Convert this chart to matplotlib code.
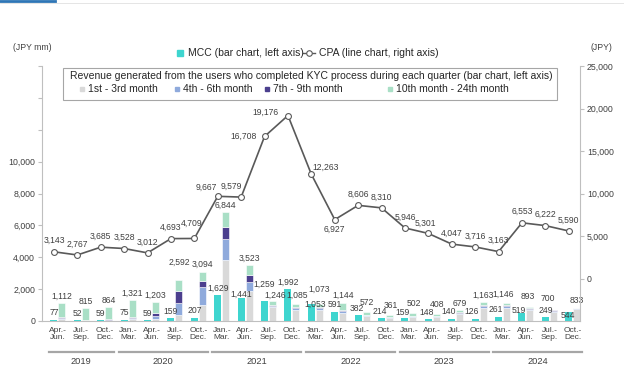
import matplotlib
matplotlib.use('Agg')
import matplotlib.pyplot as plt
from matplotlib.lines import Line2D
from matplotlib.patches import Rectangle
from matplotlib.ticker import FuncFormatter
import matplotlib.transforms as mtransforms

plt.rcParams['font.family'] = ['Liberation Sans', 'DejaVu Sans']

# quarter labels and year groups
quarters = ['Apr.-\nJun.', 'Jul.-\nSep.', 'Oct.-\nDec.',
            'Jan.-\nMar.', 'Apr.-\nJun.', 'Jul.-\nSep.', 'Oct.-\nDec.',
            'Jan.-\nMar.', 'Apr.-\nJun.', 'Jul.-\nSep.', 'Oct.-\nDec.',
            'Jan.-\nMar.', 'Apr.-\nJun.', 'Jul.-\nSep.', 'Oct.-\nDec.',
            'Jan.-\nMar.', 'Apr.-\nJun.', 'Jul.-\nSep.', 'Oct.-\nDec.',
            'Jan.-\nMar.', 'Apr.-\nJun.', 'Jul.-\nSep.', 'Oct.-\nDec.']
years = ['2019', '2020', '2021', '2022', '2023', '2024']
year_counts = [3, 4, 4, 4, 4, 4]

# MCC (JPY mm)
mcc = [77, 52, 59, 75, 59, 159, 207, 1629, 1441, 1259, 1992, 1053, 591,
       382, 214, 159, 148, 140, 126, 261, 519, 249, 544]

# revenue from KYC users, by months since KYC (JPY mm)
m1_3 = [150, 50, 30, 120, 150, 400, 1030, 3844, 1908, 860, 700, 700, 500,
        300, 180, 250, 250, 450, 800, 800, 700, 580, 780]
m4_6 = [60, 20, 60, 60, 150, 750, 1130, 1280, 525, 100, 130, 120, 150,
        80, 50, 60, 50, 80, 150, 150, 80, 60, 40]
m7_9 = [20, 10, 20, 60, 200, 750, 360, 775, 460, 60, 60, 50, 50,
        20, 20, 20, 20, 40, 80, 60, 60, 30, 10]
m10_24 = [882, 735, 754, 1081, 703, 692, 574, 945, 630, 226, 195, 203, 444,
          172, 111, 172, 88, 109, 133, 136, 53, 30, 3]
rev_total = [1112, 815, 864, 1321, 1203, 2592, 3094, 6844, 3523, 1246, 1085,
             1073, 1144, 572, 361, 502, 408, 679, 1163, 1146, 893, 700, 833]

# CPA (JPY)
cpa = [3143, 2767, 3685, 3528, 3012, 4693, 4709, 9667, 9579, 16708, 19176,
       12263, 6927, 8606, 8310, 5946, 5301, 4047, 3716, 3163, 6553, 6222, 5590]

teal = '#3ED5CF'
c_grey = '#D9D9D9'
c_blue = '#8FAADC'
c_purple = '#4B3F8E'
c_green = '#A9DFC6'
txt = '#404040'
axc = '#BFBFBF'

W, H = 624, 373
fig = plt.figure(figsize=(W / 100, H / 100), dpi=100)
ax = fig.add_axes([42 / W, 1 - 321 / H, 538 / W, 255 / H])


def px(x, y):
    return x / W, 1 - y / H


x = list(range(len(quarters)))
xt = [i - 0.17 for i in x]
xs = [i + 0.17 for i in x]
bw = 0.3

ax.bar(xt, mcc, bw, color=teal, zorder=2)
bottom = [0] * len(x)
for vals, col in [(m1_3, c_grey), (m4_6, c_blue), (m7_9, c_purple), (m10_24, c_green)]:
    ax.bar(xs, vals, bw, bottom=bottom, color=col, edgecolor='white',
           linewidth=0.4, zorder=2)
    bottom = [b + v for b, v in zip(bottom, vals)]

ax.set_xlim(-0.68, 22.31)
ax.set_ylim(0, 16000)
ax.set_yticks(range(0, 16001, 2000))
ax.yaxis.set_major_formatter(FuncFormatter(lambda v, p: f'{int(v):,}' if v <= 10000 else ''))
ax.set_xticks(x)
ax.set_xticklabels(quarters, fontsize=6, color=txt, linespacing=1.1)
ax.tick_params(axis='x', length=0, pad=4)
ax.tick_params(axis='y', length=3, color=axc, labelsize=6.3, labelcolor=txt, pad=2)
for s in ['top', 'right']:
    ax.spines[s].set_visible(False)
ax.spines['left'].set_color(axc)
ax.spines['bottom'].set_color(axc)

# bar labels (offsets in pixels for labels that were moved by hand)
teal_off = {8: (0, 4), 9: (0, 17), 11: (4, 0), 20: (-3, 2), 22: (-1, -3),
            13: (-1, 6), 14: (-2, 6), 15: (-2, 6), 16: (-2, 6),
            17: (-3, 7), 18: (-4, 7), 19: (-3, 7)}
stack_off = {9: (3, 6), 11: (0, 15), 5: (0, 17), 21: (-5, 11), 19: (-3, 8), 20: (-2, 10),
             13: (1, 9.5), 14: (1, 9.5), 15: (1, 9.5), 16: (1, 10), 10: (1, 8)}
for i in x:
    dx, dy = teal_off.get(i, (0, 7))
    ax.annotate(f'{mcc[i]:,}', (xt[i], mcc[i]), xytext=(dx, dy),
                textcoords='offset pixels', ha='center', va='center',
                fontsize=6.2, color=txt, zorder=5)
    dx, dy = stack_off.get(i, (0, 7))
    ax.annotate(f'{rev_total[i]:,}', (xs[i], rev_total[i]), xytext=(dx, dy),
                textcoords='offset pixels', ha='center', va='center',
                fontsize=6.2, color=txt, zorder=5)

# CPA line on right axis
ax2 = ax.twinx()
ax2.plot(xt, cpa, color='#595959', lw=1.2, marker='o', ms=4.2,
         mfc='white', mec='#595959', mew=0.8, zorder=3)
ax2.set_ylim(-5000, 25000)
ax2.set_yticks(range(0, 25001, 5000))
ax2.yaxis.set_major_formatter(FuncFormatter(lambda v, p: f'{int(v):,}'))
ax2.tick_params(axis='y', length=3, color=axc, labelsize=6.3, labelcolor=txt, pad=2)
for s in ['top', 'left', 'bottom']:
    ax2.spines[s].set_visible(False)
ax2.spines['right'].set_color(axc)

cpa_off = {6: (-3, 15), 7: (-11, 9), 8: (-10, 11), 9: (-21, 0), 10: (-22, 3),
           11: (14, 7), 12: (0, -10), 16: (-3, 10)}
for i in x:
    dx, dy = cpa_off.get(i, (0, 11))
    ax2.annotate(f'{cpa[i]:,}', (xt[i], cpa[i]), xytext=(dx, dy),
                 textcoords='offset pixels', ha='center', va='center',
                 fontsize=6.2, color=txt)

# year group lines and labels
trans = mtransforms.blended_transform_factory(ax.transData, ax.transAxes)
start = 0
for yr, n in zip(years, year_counts):
    a, b = start - 0.4, start + n - 0.6
    ax.plot([a, b], [-0.122, -0.122], color='#A6A6A6', lw=1.6,
            transform=trans, clip_on=False)
    ax.text((a + b) / 2, -0.16, yr, transform=trans, ha='center', va='center',
            fontsize=6.7, color=txt)
    start += n

# axis unit labels
fig.text(*px(32, 47), '(JPY mm)', ha='center', va='center', fontsize=6.2, color=txt)
fig.text(*px(601, 47), '(JPY)', ha='center', va='center', fontsize=6.2, color=txt)

# top legend
fig.add_artist(Line2D(*zip(px(180, 53)), marker='s', ms=3.8, color=teal, ls=''))
fig.text(*px(188, 53), 'MCC (bar chart, left axis)', ha='left', va='center',
         fontsize=7.5, color='#262626')
fig.add_artist(Line2D([303 / W, 315 / W], [1 - 53 / H] * 2, color='#595959', lw=1))
fig.add_artist(Line2D(*zip(px(309, 53)), marker='o', ms=4, mfc='white',
                      mec='#595959', mew=0.8, ls=''))
fig.text(*px(319, 53), 'CPA (line chart, right axis)', ha='left', va='center',
         fontsize=7.5, color='#262626')

# boxed legend
fig.add_artist(Rectangle(px(63, 100), 494 / W, 32 / H, transform=fig.transFigure,
                         fill=False, edgecolor='#A6A6A6', lw=0.8))
fig.text(*px(311, 76), 'Revenue generated from the users who completed KYC process '
         'during each quarter (bar chart, left axis)', ha='center', va='center',
         fontsize=7.5, color='#262626')
for xx, col, lab in [(82, c_grey, '1st - 3rd month'), (177, c_blue, '4th - 6th month'),
                     (267, c_purple, '7th - 9th month'), (390, c_green, '10th month - 24th month')]:
    fig.add_artist(Line2D(*zip(px(xx, 89)), marker='s', ms=2.8, color=col, ls=''))
    fig.text(*px(xx + 6, 89), lab, ha='left', va='center', fontsize=7.5, color='#262626')

# page decoration at the top edge
fig.add_artist(Line2D([0, 55 / W], [1 - 1 / H] * 2, color='#2E75B6', lw=2))
fig.add_artist(Line2D([0, 1], [1 - 3 / H] * 2, color='#E0E0E0', lw=0.6))

fig.savefig('out.png', dpi=100)
